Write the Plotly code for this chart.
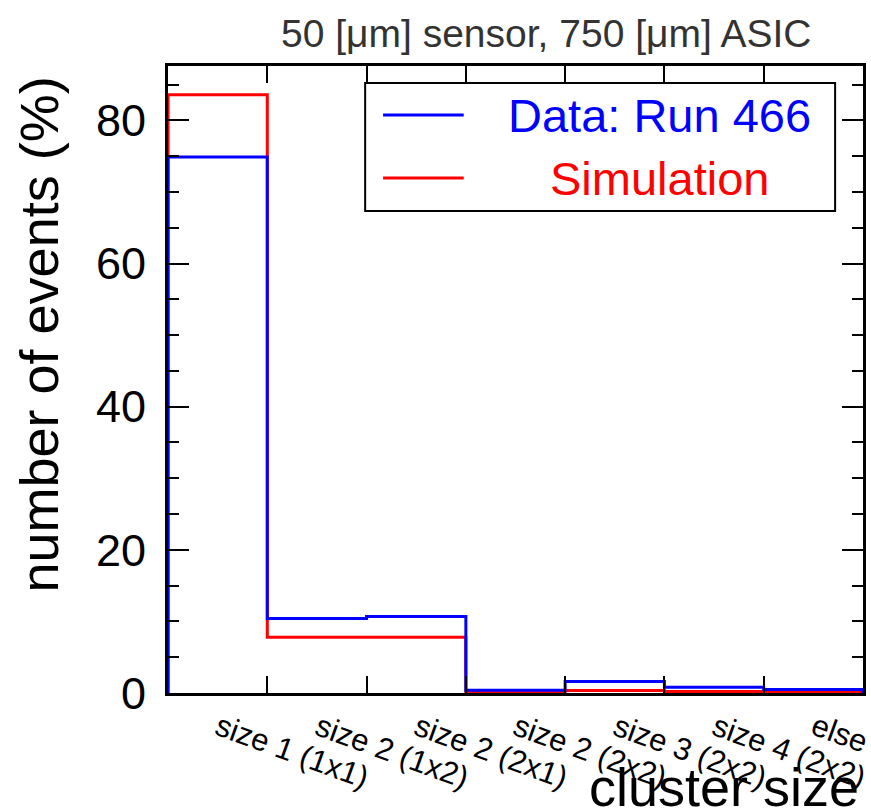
import plotly.graph_objects as go

# ---------------- data ----------------
categories = ["size 1 (1x1)", "size 2 (1x2)", "size 2 (2x1)", "size 2 (2x2)",
              "size 3 (2x2)", "size 4 (2x2)", "else"]
data_run466 = [74.9, 10.4, 10.7, 0.4, 1.6, 0.8, 0.5]
simulation = [83.6, 7.8, 7.8, 0.15, 0.35, 0.2, 0.15]
y_tick_values = [0, 20, 40, 60, 80]
y_tick_labels = ["0", "20", "40", "60", "80"]
series_names = ["Data: Run 466", "Simulation"]
title_text = "50 [\u03bcm] sensor, 750 [\u03bcm] ASIC"
x_title = "cluster size"
y_title = "number of events (%)"

FONT = "Liberation Sans, Arial, Helvetica, sans-serif"
W, H = 871, 812
L, R, T, B = 168, 866, 66, 693


def px(x):
    return (x - L) / (R - L)


def py(y):
    return (B - y) / (B - T)


edges = list(range(len(categories) + 1))
centers = [e + 0.5 for e in edges[:-1]]


def step(vals):
    xs = [edges[0]] + edges[:-1] + [edges[-1], edges[-1]]
    ys = [0] + list(vals) + [vals[-1], 0]
    return xs, ys


fig = go.Figure()
for vals, color, name in [(simulation, "#ff0000", series_names[1]),
                          (data_run466, "#0000ff", series_names[0])]:
    xs, ys = step(vals)
    fig.add_trace(go.Scatter(x=xs, y=ys, mode="lines", line=dict(color=color, width=3, shape="hv"),
                             name=name, showlegend=False, hoverinfo="skip"))

fig.update_layout(
    width=W, height=H, autosize=False,
    margin=dict(l=L, r=W - R, t=T, b=H - B, pad=0),
    paper_bgcolor="white", plot_bgcolor="white",
    font=dict(family=FONT, color="black"),
    showlegend=False,
)
fig.update_xaxes(range=[0, len(categories)], tickvals=edges[1:-1], ticks="inside", ticklen=17,
                 tickwidth=2, tickcolor="black", showticklabels=False, showgrid=False,
                 zeroline=False, showline=True, linewidth=3, linecolor="black", mirror="ticks")
fig.update_yaxes(range=[0, 87.6], tickvals=y_tick_values, ticktext=y_tick_labels, ticks="inside",
                 ticklen=21, tickwidth=2, tickcolor="black", showgrid=False, zeroline=False,
                 showline=True, linewidth=3, linecolor="black", mirror="ticks",
                 tickfont=dict(size=45, family=FONT, color="black"), ticklabelstandoff=10,
                 minor=dict(dtick=5, tick0=0, ticks="inside", ticklen=11, tickwidth=2,
                            tickcolor="black", showgrid=False))

ann = []
# title
ann.append(dict(text=title_text, x=px(548), y=py(33), xref="paper", yref="paper",
                xanchor="center", yanchor="middle", showarrow=False,
                font=dict(size=39, family=FONT, color="#333333")))
# y title
ann.append(dict(text=y_title, x=px(38), y=py(335), xref="paper", yref="paper",
                xanchor="center", yanchor="middle", textangle=-90, showarrow=False,
                font=dict(size=54, family=FONT, color="black")))
# x title
ann.append(dict(text=x_title, x=px(864), y=py(787), xref="paper", yref="paper",
                xanchor="right", yanchor="middle", showarrow=False,
                font=dict(size=54, family=FONT, color="black")))
# category labels
for c, lab in zip(centers, categories):
    ann.append(dict(text=lab, x=c, y=py(705), xref="x", yref="paper", xshift=-9,
                    xanchor="left", yanchor="top", textangle=20, showarrow=False,
                    font=dict(size=31, family=FONT, color="black")))

# legend (manual, ROOT style)
shapes = [dict(type="rect", xref="paper", yref="paper", x0=px(366), x1=px(838), y0=py(211), y1=py(83),
               line=dict(color="black", width=2), fillcolor="white", layer="above")]
for name, color, yy in [(series_names[0], "#0000ff", 115), (series_names[1], "#ff0000", 178)]:
    shapes.append(dict(type="line", xref="paper", yref="paper", x0=px(384), x1=px(465),
                       y0=py(yy), y1=py(yy), line=dict(color=color, width=3), layer="above"))
    ann.append(dict(text=name, x=px(662), y=py(yy), xref="paper", yref="paper",
                    xanchor="center", yanchor="middle", showarrow=False,
                    font=dict(size=47, family=FONT, color=color)))

fig.update_layout(annotations=ann, shapes=shapes)
fig.write_html("out.html")
